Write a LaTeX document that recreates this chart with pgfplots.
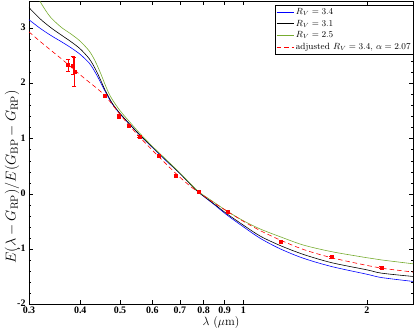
\documentclass[border=0pt]{standalone}
\usepackage{pgfplots}
\pgfplotsset{compat=1.18}
\usepackage{fontspec}
\newfontfamily\tickfont{Liberation Serif}
\definecolor{mgreen}{rgb}{0.466,0.674,0.188}
\pgfplotstableread{
x y e
0.373 2.34 0.11
0.384 2.33 0.16
0.387 2.22 0.26
0.459 1.78 0.03
0.497 1.41 0.03
0.525 1.24 0.02
0.557 1.04 0.02
0.622 0.70 0.02
0.683 0.33 0.02
0.778 0.04 0.02
0.915 -0.33 0.02
1.233 -0.87 0.02
1.638 -1.15 0.02
2.170 -1.34 0.02
}\obsdata
\begin{document}
\begin{tikzpicture}
\path[use as bounding box] (-29bp,-32bp) rectangle (386bp,304bp);
\begin{axis}[
 scale only axis, width=384bp, height=303bp,
 xmode=log, xmin=0.3, xmax=2.59, ymin=-2, ymax=3.5,
 xtick={0.3,0.4,0.5,0.6,0.7,0.8,0.9,1,2},
 xticklabels={0.3,0.4,0.5,0.6,0.7,0.8,0.9,1,2},
 minor xtick={},
 ytick={-2,-1,0,1,2,3}, yticklabels={-2,-1,0,1,2,3},
 minor y tick num=4,
 tick align=inside, major tick length=4bp, minor tick length=2bp,
 axis line style={line width=0.8pt},
 major tick style={black, line width=0.6pt},
 minor tick style={black, line width=0.5pt},
 ticklabel style={font=\tickfont\bfseries\fontsize{10}{12}\selectfont, inner sep=0.5bp},
 xticklabel style={yshift=-2bp},
 yticklabel style={xshift=-2.8bp, yshift=1bp},
 xlabel={$\lambda$ ($\mu$m)},
 ylabel={$E(\lambda - G_{\rm RP})/E(G_{\rm BP}-G_{\rm RP})$},
 xlabel style={at={(axis description cs:0.5,-0.06)}, anchor=center, font=\fontsize{12}{13}\selectfont},
 ylabel style={at={(axis description cs:-0.0443,0.42)}, anchor=center, font=\fontsize{15}{16}\selectfont},
 legend cell align=left,
 legend style={at={(1,1)}, anchor=north east, xshift=1bp, yshift=-4bp, draw=black, line width=0.6pt,
   font=\fontsize{9}{10}\selectfont, inner sep=1bp, fill=white},
]
\addplot[blue, line width=0.6pt, smooth] coordinates {
(0.30,3.16)(0.32,3.00)(0.34,2.87)(0.36,2.76)(0.38,2.65)(0.40,2.53)(0.42,2.38)(0.43,2.27)(0.44,2.14)(0.45,2.00)(0.46,1.86)(0.47,1.73)(0.48,1.62)(0.50,1.45)(0.53,1.25)(0.56,1.06)(0.60,0.84)(0.65,0.59)(0.70,0.37)(0.75,0.14)(0.78,0.02)(0.85,-0.20)(0.91,-0.38)(1.00,-0.60)(1.10,-0.81)(1.23,-1.00)(1.40,-1.17)(1.64,-1.32)(2.00,-1.46)(2.17,-1.52)(2.59,-1.59)};
\addlegendentry{$R_V=3.4$}
\addplot[black, line width=0.6pt, smooth] coordinates {
(0.30,3.38)(0.32,3.17)(0.34,3.01)(0.36,2.88)(0.38,2.76)(0.40,2.63)(0.42,2.46)(0.43,2.34)(0.44,2.20)(0.45,2.04)(0.46,1.88)(0.47,1.75)(0.48,1.63)(0.50,1.46)(0.53,1.25)(0.56,1.06)(0.60,0.85)(0.65,0.60)(0.70,0.37)(0.75,0.14)(0.78,0.02)(0.85,-0.19)(0.91,-0.36)(1.00,-0.57)(1.10,-0.77)(1.23,-0.94)(1.40,-1.10)(1.64,-1.25)(2.00,-1.38)(2.17,-1.44)(2.59,-1.50)};
\addlegendentry{$R_V=3.1$}
\addplot[mgreen, line width=0.6pt, smooth] coordinates {
(0.30,3.88)(0.31,3.68)(0.32,3.48)(0.33,3.32)(0.34,3.19)(0.36,3.02)(0.38,2.90)(0.40,2.77)(0.42,2.60)(0.43,2.48)(0.44,2.33)(0.45,2.16)(0.46,1.98)(0.47,1.82)(0.48,1.70)(0.50,1.51)(0.53,1.29)(0.56,1.09)(0.60,0.86)(0.65,0.61)(0.70,0.38)(0.75,0.15)(0.78,0.03)(0.85,-0.16)(0.91,-0.31)(1.00,-0.49)(1.10,-0.64)(1.23,-0.78)(1.40,-0.93)(1.64,-1.05)(2.00,-1.16)(2.17,-1.20)(2.59,-1.27)};
\addlegendentry{$R_V=2.5$}
\addplot[red, line width=0.6pt, smooth, dash pattern=on 4.5bp off 3bp] coordinates {
(0.30,2.94)(0.32,2.76)(0.34,2.60)(0.36,2.45)(0.38,2.30)(0.40,2.16)(0.42,2.03)(0.44,1.91)(0.46,1.78)(0.48,1.61)(0.50,1.44)(0.53,1.22)(0.56,1.02)(0.60,0.79)(0.65,0.53)(0.70,0.30)(0.75,0.11)(0.78,0.02)(0.85,-0.17)(0.91,-0.31)(1.00,-0.50)(1.10,-0.67)(1.23,-0.84)(1.40,-1.01)(1.64,-1.16)(2.00,-1.30)(2.17,-1.35)(2.59,-1.42)};
\addlegendentry{adjusted $R_V=3.4$, $\alpha=2.07$}
\addplot[red, only marks, mark=square*, mark size=1.5pt, mark options={red, fill=red}, forget plot,
  error bars/.cd, y dir=both, y explicit,
  error bar style={red, line width=0.5pt}, error mark options={red, mark size=2bp, line width=0.5pt, rotate=90}]
  table[x=x, y=y, y error=e] {\obsdata};
\end{axis}
\end{tikzpicture}
\end{document}
